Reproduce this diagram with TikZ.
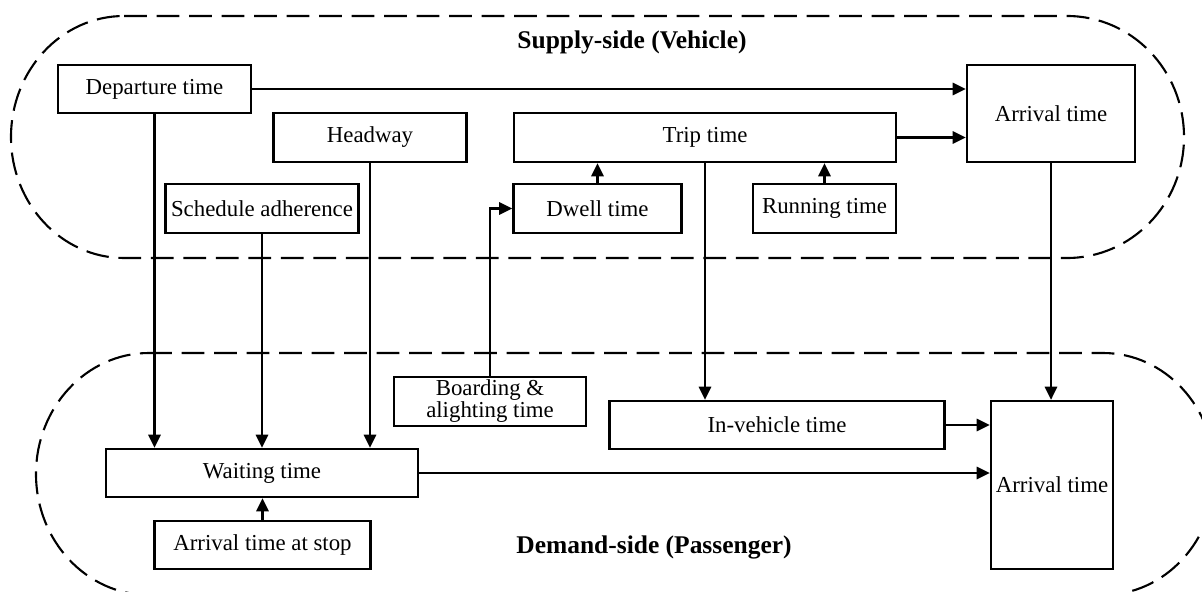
\documentclass[tikz,border=0pt]{standalone}
\usepackage{fontspec}
\setmainfont{Liberation Serif}
\usetikzlibrary{arrows.meta,calc}
\begin{document}
\begin{tikzpicture}[x=0.02cm,y=-0.02cm,
  box/.style={draw, line width=1.3pt, inner sep=0pt, align=center, font=\fontsize{13}{14.5}\selectfont},
  sz/.style 2 args={minimum width=#1*0.02cm, minimum height=#2*0.02cm},
  conn/.style={line width=1.3pt, -{Triangle[length=7.5pt,width=7pt]}},
  region/.style={line width=1.2pt, dash pattern=on 13pt off 5.5pt},
  title/.style={font=\fontsize{14.5}{16}\selectfont\bfseries}]
\clip (0,0) rectangle (1202,591);
% regions
\draw[region] (124,16) -- (1067,16) arc[start angle=-90,end angle=90,x radius=117,y radius=121]
  -- (124,258) arc[start angle=90,end angle=270,x radius=113,y radius=121] -- cycle;
\draw[region] (149,353) -- (1103,353) arc[start angle=-90,end angle=90,x radius=112,y radius=121]
  -- (149,595) arc[start angle=90,end angle=270,x radius=113,y radius=121] -- cycle;
\node[title] (supply) at (632,42) {Supply-side (Vehicle)};
\node[title] (demand) at (654,547) {Demand-side (Passenger)};
% nodes
\node[box, sz={193}{48}] (dep) at (154.5,89) {Departure time};
\node[box, sz={168}{97}] (arrS) at (1051,113.5) {Arrival time};
\node[box, sz={193}{49}] (head) at (370,137.5) {Headway};
\node[box, sz={382}{49}] (trip) at (705,137.5) {Trip time};
\node[box, sz={193}{49}] (sched) at (262,208.5) {Schedule adherence};
\node[box, sz={168}{49}] (dwell) at (597.5,208.5) {Dwell time};
\node[box, sz={143}{49}] (run) at (824.5,208.5) {Running time};
\node[box, sz={192}{49}, font=\fontsize{13}{12.5}\selectfont] (board) at (490,401.5) {Boarding \&\\ alighting time};
\node[box, sz={335}{48}] (inveh) at (777,425) {In-vehicle time};
\node[box, sz={122}{168}] (arrD) at (1052,485) {Arrival time};
\node[box, sz={312}{48}] (wait) at (262,473) {Waiting time};
\node[box, sz={216}{48}] (stop) at (262.5,545) {Arrival time at stop};
% connectors
\draw[conn] (dep.east) -- (dep.east -| arrS.west);
\draw[conn] (trip.east) -- (trip.east -| arrS.west);
\draw[conn] (dep.south) -- (dep.south |- wait.north);
\draw[conn] (sched.south) -- (sched.south |- wait.north);
\draw[conn] (head.south) -- (head.south |- wait.north);
\draw[conn] (dwell.north) -- (dwell.north |- trip.south);
\draw[conn] (run.north) -- (run.north |- trip.south);
\draw[conn] (board.north) |- (dwell.west);
\draw[conn] (trip.south) -- (trip.south |- inveh.north);
\draw[conn] (arrS.south) -- (arrS.south |- arrD.north);
\draw[conn] (inveh.east) -- (inveh.east -| arrD.west);
\draw[conn] (wait.east) -- (wait.east -| arrD.west);
\draw[conn] (stop.north) -- (stop.north |- wait.south);
\end{tikzpicture}
\end{document}
